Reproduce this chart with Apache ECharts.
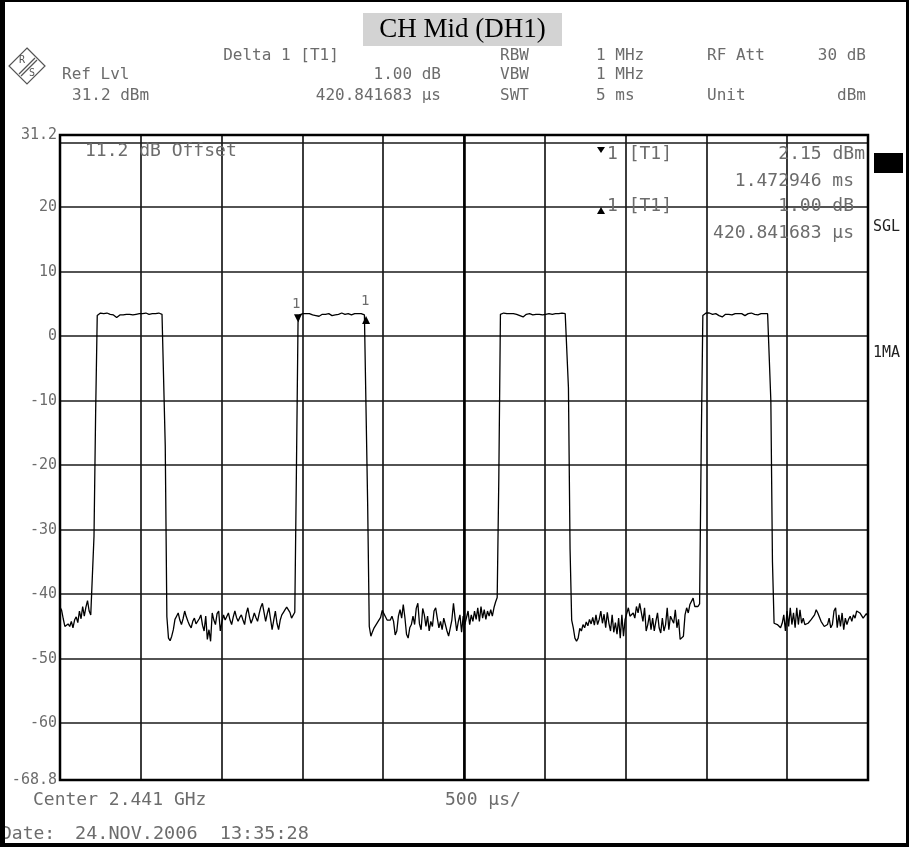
<!DOCTYPE html>
<html><head><meta charset="utf-8">
<script src="https://cdn.jsdelivr.net/npm/echarts@6/dist/echarts.min.js"></script>
<style>html,body{margin:0;padding:0;background:#fff}#c{width:909px;height:847px}</style>
</head><body><div id="c"></div>
<script>
// ---- sweep settings ----
const sweepMs = 5;        // SWT 5 ms
const sweepPoints = 500;  // trace points

// ---- trace segments (dBm), in sweep order ----
const noise0 = [-42.0,-42.5,-43.8,-45.0,-45.3,-44.6,-45.0,-44.2,-45.2,-44.0,
  -43.5,-44.4,-42.6,-43.8,-41.9,-43.4,-42.0,-41.0,-42.6,-43.2,-43.4];
const rise1 = [-31,-12];
const top1 = [3.2,3.5,3.6,3.6,3.5,3.5,3.6,3.5,3.4,3.5,
  3.3,3.1,2.9,3.1,3.3,3.4,3.3,3.5,3.4,3.2,
  3.4,3.5,3.3,3.5,3.4,3.5,3.5,3.3,3.5,3.4,
  3.6,3.5,3.4,3.5,3.5,3.4,3.5,3.5,3.6,3.5,
  3.4,3.2];
const fall1 = [-17,-43.5];
const noise1 = [-46.8,-47.2,-46.5,-45.5,-43.9,-43.4,-42.9,-44.0,-44.7,-43.8,
  -42.6,-43.5,-44.2,-44.8,-45.2,-44.2,-43.7,-44.6,-44.5,-43.8,
  -43.2,-44.8,-45.7,-43.4,-47.0,-45.5,-47.3,-42.9,-44.0,-44.7,
  -43.0,-42.6,-45.7,-44.3,-43.2,-44.0,-43.9,-42.9,-44.0,-44.7,
  -43.5,-42.6,-43.6,-44.2,-43.6,-43.2,-44.0,-44.7,-43.0,-42.1,
  -43.5,-44.5,-43.8,-42.9,-43.6,-44.2,-43.0,-42.0,-41.4,-42.8,
  -44.2,-43.0,-42.1,-43.8,-45.5,-44.0,-42.6,-44.5,-45.5,-44.0,
  -43.2,-42.8,-42.4,-42.0,-41.9,-42.8,-43.7,-43.9,-42.8];
const rise2 = [-21,2.15];
const top2 = [3.3,3.5,3.5,3.6,3.5,3.4,3.5,3.5,3.3,3.4,
  3.2,3.0,3.1,3.3,3.4,3.5,3.4,3.3,3.5,3.4,
  3.2,3.1,3.3,3.5,3.4,3.5,3.6,3.5,3.4,3.5,
  3.5,3.4,3.3,3.5,3.5,3.6,3.5,3.4,3.5,3.4,
  3.3,3.15];
const fall2 = [-26];
const noise2 = [-45.0,-46.5,-45.8,-45.2,-45.5,-44.4,-44.7,-43.6,-42.5,-42.6,
  -43.5,-44.0,-43.7,-44.0,-43.4,-44.2,-46.3,-45.7,-43.4,-42.4,
  -43.7,-41.6,-43.6,-46.2,-46.8,-45.2,-44.7,-43.4,-44.7,-42.2,
  -41.4,-44.6,-45.5,-42.2,-43.2,-45.0,-43.4,-45.7,-44.2,-45.0,
  -42.6,-42.1,-43.7,-45.2,-44.2,-45.5,-43.7,-43.9,-45.7,-46.5,
  -46.8,-44.0,-41.4,-43.7,-45.7,-44.2,-43.2,-45.9,-43.4,-44.7,
  -45.0,-42.6,-44.7,-43.2,-44.2,-42.6,-43.9,-42.1,-44.2,-41.9,
  -43.7,-42.4,-43.9,-42.6,-43.4,-42.4,-43.4,-42.1,-41.2,-40.5];
const rise3 = [-22];
const top3 = [3.4,3.6,3.6,3.5,3.5,3.6,3.5,3.4,3.5,3.5,
  3.4,3.5,3.2,2.9,3.0,3.2,3.4,3.3,3.5,3.4,
  3.3,3.5,3.4,3.2,3.4,3.5,3.3,3.5,3.4,3.5,
  3.5,3.6,3.4,3.5,3.5,3.3,3.5,3.4,3.6,3.5,
  3.5,3.3];
const fall3 = [-8,-33];
const noise3 = [-44.0,-45.2,-46.8,-47.3,-46.8,-45.3,-45.7,-44.7,-45.2,-44.3,
  -44.9,-43.9,-44.6,-43.6,-44.8,-43.2,-44.7,-43.9,-42.6,-44.5,
  -43.1,-45.2,-42.8,-44.5,-45.7,-43.2,-45.9,-44.4,-46.2,-43.7,
  -46.8,-43.2,-46.5,-43.9,-43.7,-42.1,-43.4,-43.2,-42.9,-43.7,
  -41.9,-42.9,-41.4,-41.1,-44.2,-42.1,-45.7,-44.7,-43.2,-45.5,
  -43.7,-45.7,-44.2,-42.9,-45.2,-46.0,-43.7,-45.7,-44.7,-42.1,
  -45.5,-43.4,-43.2,-44.5,-42.4,-45.2,-43.9,-47.0,-47.3,-46.5,
  -43.2,-42.1,-42.9,-41.6,-41.4,-40.6,-41.9,-42.1,-41.9,-41.5];
const rise4 = [-17];
const top4 = [3.2,3.5,3.6,3.5,3.6,3.5,3.4,3.5,3.5,3.3,
  3.2,3.0,3.0,3.2,3.4,3.5,3.4,3.5,3.3,3.4,
  3.5,3.3,3.5,3.4,3.5,3.5,3.2,3.4,3.5,3.4,
  3.6,3.5,3.4,3.5,3.3,3.5,3.5,3.4,3.5,3.6,
  3.5,3.4];
const fall4 = [-10,-35];
const noise4 = [-44.5,-44.5,-44.7,-45.0,-45.2,-44.5,-43.2,-45.7,-42.6,-45.0,
  -42.1,-44.7,-42.9,-45.2,-42.1,-44.7,-42.4,-44.5,-43.7,-44.7,
  -44.7,-44.5,-44.2,-43.9,-43.7,-43.2,-42.4,-42.9,-43.2,-44.2,
  -44.5,-45.0,-45.2,-44.7,-43.7,-45.2,-44.7,-42.6,-42.1,-45.2,
  -43.2,-45.0,-42.9,-45.5,-43.7,-44.7,-43.9,-43.4,-44.2,-43.2,
  -43.7,-42.6,-42.4,-42.9,-43.2,-43.7,-43.4,-43.0,-43.4];

// ---- axis / markers ----
const yTickLabels = [31.2, 20, 10, 0, -10, -20, -30, -40, -50, -60, -68.8];
const yGridLevels = [20, 10, 0, -10, -20, -30, -40, -50, -60];
const displayLine = 30;
const markerIndex = 147;       // marker 1 [T1]
const deltaIndex = 189;        // delta 1 [T1]

const trace = [].concat(noise0, rise1, top1, fall1, noise1, rise2, top2, fall2,
  noise2, rise3, top3, fall3, noise3, rise4, top4, fall4, noise4);
const tOf = k => k * sweepMs / (sweepPoints - 1);
const data = trace.map((v, k) => [tOf(k), v]);

const mono = '"DejaVu Sans Mono", monospace';
const grey = '#6c6c6c';
function txt(x, y, text, opts) {
  opts = opts || {};
  return {type: 'text', x: x, y: y, silent: true, z: 50,
    style: {text: text, fill: opts.fill || grey, font: (opts.size || 16) + 'px ' + (opts.family || mono),
      align: opts.align || 'left', verticalAlign: 'middle'}};
}

const graphics = [
  // outer frame
  {type: 'rect', shape: {x: 0, y: 0, width: 5, height: 847}, style: {fill: '#000'}, silent: true, z: 60},
  {type: 'rect', shape: {x: 0, y: 0, width: 909, height: 2}, style: {fill: '#000'}, silent: true, z: 60},
  {type: 'rect', shape: {x: 906, y: 0, width: 3, height: 847}, style: {fill: '#000'}, silent: true, z: 60},
  {type: 'rect', shape: {x: 0, y: 843, width: 909, height: 4}, style: {fill: '#000'}, silent: true, z: 60},
  // title
  {type: 'rect', shape: {x: 363, y: 13, width: 199, height: 33}, style: {fill: '#d3d3d3'}, silent: true},
  txt(462.5, 30, 'CH Mid (DH1)', {fill: '#000', size: 27, family: '"Liberation Serif", serif', align: 'center'}),
  // R&S logo
  {type: 'polygon', shape: {points: [[27, 48], [45, 66], [27, 84], [9, 66]]},
    style: {fill: 'none', stroke: '#555', lineWidth: 1.2}, silent: true},
  {type: 'line', shape: {x1: 19, y1: 74, x2: 35, y2: 58}, style: {stroke: '#555', lineWidth: 1.2}, silent: true},
  {type: 'line', shape: {x1: 21, y1: 76, x2: 37, y2: 60}, style: {stroke: '#555', lineWidth: 1.2}, silent: true},
  txt(22, 60, 'R', {size: 10, fill: '#555', align: 'center'}),
  txt(32, 73, 'S', {size: 10, fill: '#555', align: 'center'}),
  // header rows
  txt(281, 56, 'Delta 1 [T1]', {align: 'center'}),
  txt(500, 56, 'RBW'), txt(596, 56, '1 MHz'), txt(707, 56, 'RF Att'), txt(866, 56, '30 dB', {align: 'right'}),
  txt(62, 75, 'Ref Lvl'), txt(441, 75, '1.00 dB', {align: 'right'}),
  txt(500, 75, 'VBW'), txt(596, 75, '1 MHz'),
  txt(72, 96, '31.2 dBm'), txt(441, 96, '420.841683 µs', {align: 'right'}),
  txt(500, 96, 'SWT'), txt(596, 96, '5 ms'), txt(707, 96, 'Unit'), txt(866, 96, 'dBm', {align: 'right'}),
  // in-plot texts
  txt(85, 151, '11.2 dB Offset', {size: 18}),
  {type: 'polygon', shape: {points: [[597, 147], [605, 147], [601, 153]]}, style: {fill: '#000'}, silent: true, z: 50},
  txt(607, 154, '1 [T1]', {size: 18}),
  txt(865, 154, '2.15 dBm', {size: 18, align: 'right'}),
  txt(854, 181, '1.472946 ms', {size: 18, align: 'right'}),
  {type: 'polygon', shape: {points: [[597, 214], [605, 214], [601, 207]]}, style: {fill: '#000'}, silent: true, z: 50},
  txt(607, 206, '1 [T1]', {size: 18}),
  txt(854, 206, '1.00 dB', {size: 18, align: 'right'}),
  txt(854, 233, '420.841683 µs', {size: 18, align: 'right'}),
  // right side indicators
  {type: 'rect', shape: {x: 874, y: 153, width: 29, height: 20}, style: {fill: '#000'}, silent: true},
  txt(873, 227, 'SGL', {size: 15, fill: '#222'}),
  txt(873, 353, '1MA', {size: 15, fill: '#222'}),
  // bottom
  txt(33, 800, 'Center 2.441 GHz', {size: 18}),
  txt(445, 800, '500 µs/', {size: 18}),
  txt(1, 834, 'Date:', {size: 18}),
  txt(75, 834, '24.NOV.2006  13:35:28', {size: 18.5})
];

const chart = echarts.init(document.getElementById('c'), null, {renderer: 'canvas'});
chart.setOption({
  animation: false,
  backgroundColor: '#fff',
  grid: {left: 60, top: 135, width: 808, height: 645, show: true, borderColor: '#000', borderWidth: 2.5,
    backgroundColor: 'transparent', z: 10},
  xAxis: {type: 'value', min: 0, max: sweepMs, interval: 0.5,
    axisLine: {show: false}, axisTick: {show: false}, axisLabel: {show: false},
    splitLine: {show: true, lineStyle: {color: '#1a1a1a', width: 1.7}}},
  yAxis: {type: 'value', min: -68.8, max: 31.2,
    axisLine: {show: false}, axisTick: {show: false}, splitLine: {show: false},
    axisLabel: {customValues: yTickLabels, color: grey, fontFamily: mono, fontSize: 15, margin: 3,
      formatter: v => (Math.round(v) === v ? String(v) : v.toFixed(1))}},
  series: [{
    type: 'line', data: data, showSymbol: false, symbol: 'none', z: 5,
    lineStyle: {color: '#000', width: 1.3}, silent: true,
    markLine: {silent: true, symbol: 'none', animation: false, label: {show: false},
      lineStyle: {color: '#1a1a1a', width: 1.7, type: 'solid'},
      data: yGridLevels.map(v => ({yAxis: v})).concat([{yAxis: displayLine},
        {xAxis: sweepMs / 2, lineStyle: {color: '#000', width: 2.6, type: 'solid'}}])},
    markPoint: {silent: true, animation: false,
      label: {show: true, color: grey, fontFamily: mono, fontSize: 14},
      data: [
        {coord: [tOf(markerIndex), trace[markerIndex]], symbol: 'triangle', symbolRotate: 180, symbolSize: 8,
          symbolOffset: [0, -4], itemStyle: {color: '#000'}, label: {formatter: '1', position: [-2, -17]}},
        {coord: [tOf(deltaIndex), trace[deltaIndex]], symbol: 'triangle', symbolSize: 8,
          symbolOffset: [0, 4], itemStyle: {color: '#000'}, label: {formatter: '1', position: [-1, -22]}}
      ]}
  }],
  graphic: graphics
});
</script></body></html>
